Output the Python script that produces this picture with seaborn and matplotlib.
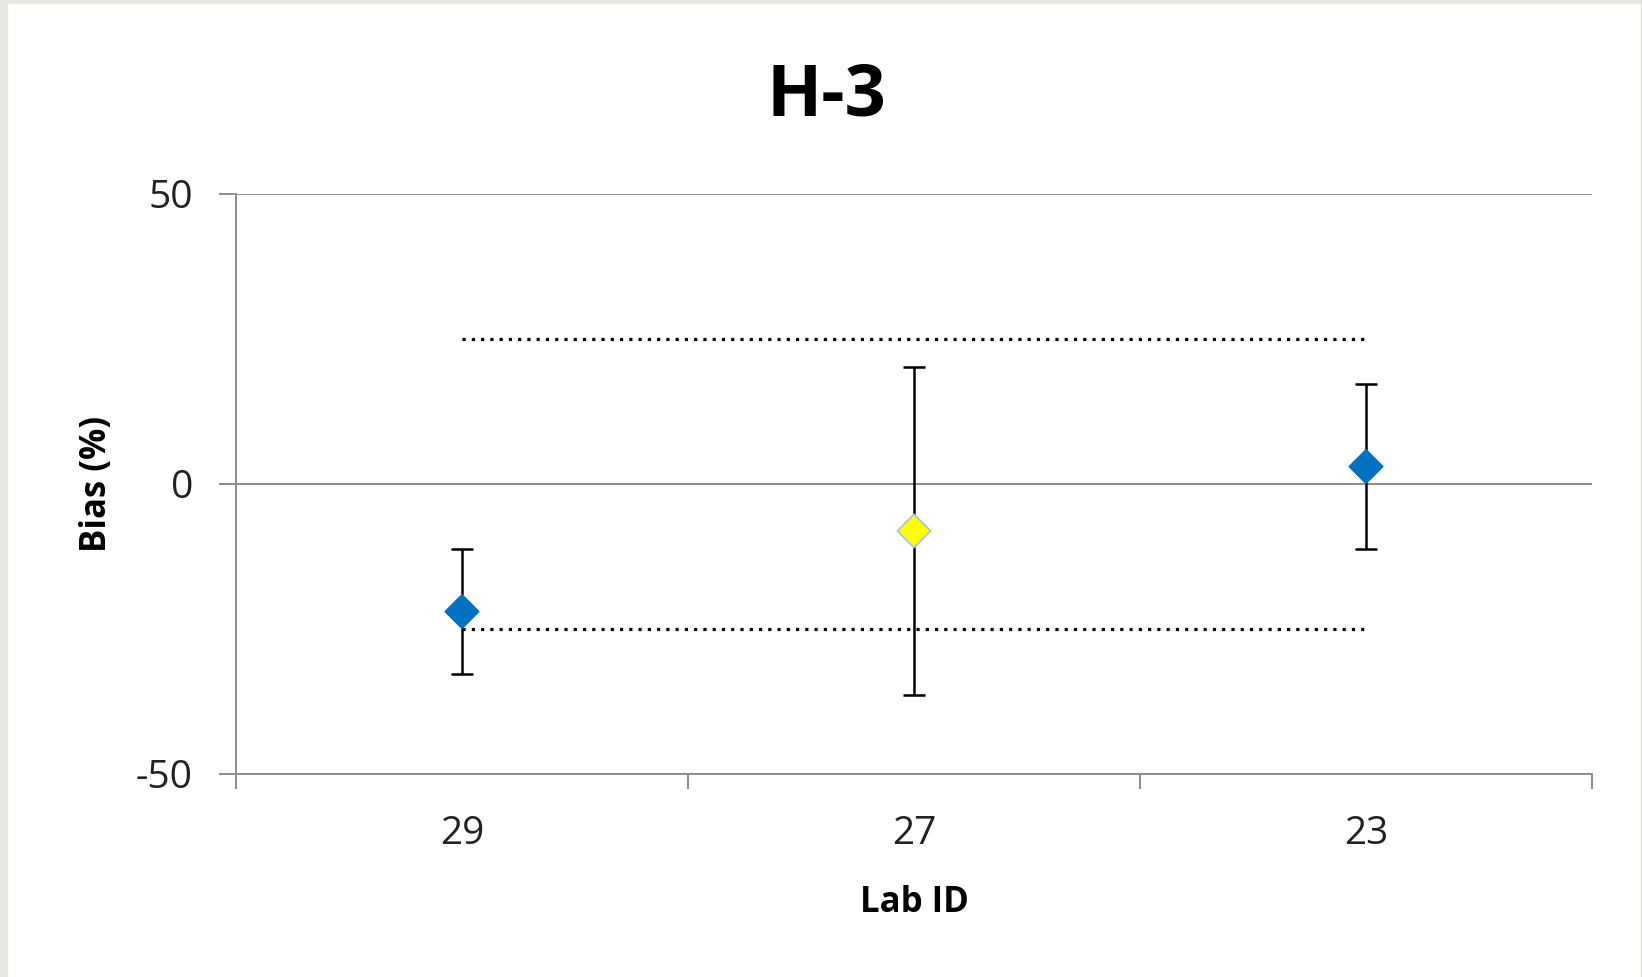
import numpy as np
import pandas as pd
import matplotlib
matplotlib.use("Agg")
import matplotlib.pyplot as plt
from matplotlib.patches import Rectangle
from matplotlib.ticker import FixedLocator
import seaborn as sns

# ---- data ----
lab_ids = ["29", "27", "23"]
bias = [-22.0, -8.1, 3.0]
bias_err = [10.8, 28.3, 14.2]
point_colors = ["#0070C0", "#FFFF00", "#0070C0"]
edge_colors = ["#0070C0", "#9DC3E6", "#0070C0"]
limit_upper = [25, 25, 25]
limit_lower = [-25, -25, -25]
yticks = [-50, 0, 50]

sns.set_theme(style="white")
plt.rcParams["font.family"] = ["Open Sans", "DejaVu Sans"]
plt.rcParams["axes.unicode_minus"] = False

fig = plt.figure(figsize=(16.42, 9.77), dpi=100)
fig.patch.set_facecolor("white")
frame_col = "#EAE8E3"
fig.patches.append(Rectangle((0, 0), 7 / 1642, 1, transform=fig.transFigure, color=frame_col, zorder=-10))
fig.patches.append(Rectangle((0, 1 - 3 / 977), 1, 3 / 977, transform=fig.transFigure, color=frame_col, zorder=-10))
fig.patches.append(Rectangle((1 - 1.5 / 1642, 0), 1.5 / 1642, 1, transform=fig.transFigure, color="#DDDAD4", zorder=-10))

ax = fig.add_axes([236 / 1642, 203 / 977, (1592 - 236) / 1642, (774 - 194) / 977])
ax.set_facecolor("none")

df = pd.DataFrame({"lab": lab_ids, "bias": bias, "err": bias_err})

# markers
sns.scatterplot(data=df, x="lab", y="bias", hue="lab",
                palette=dict(zip(lab_ids, point_colors)),
                marker="D", s=290, edgecolor=edge_colors, linewidth=1.2,
                legend=False, ax=ax, zorder=5)

# error bars
ax.errorbar(lab_ids, bias, yerr=bias_err, fmt="none", ecolor="black",
            elinewidth=1.8, capsize=8, capthick=1.8, zorder=4)

# limit lines
dot = (0, (1, 1.9))
ax.plot(lab_ids, limit_upper, color="black", lw=2.3, linestyle=dot, zorder=3)
ax.plot(lab_ids, limit_lower, color="black", lw=2.3, linestyle=dot, zorder=3)

gray = "#8C8C8C"
ax.set_xlim(-0.5, 2.5)
ax.set_ylim(-50, 50)
ax.set_yticks(yticks)
ax.yaxis.grid(True, color=gray, lw=1.4, zorder=0)
ax.set_axisbelow(True)
for side in ["top", "right"]:
    ax.spines[side].set_visible(False)
for side in ["left", "bottom"]:
    ax.spines[side].set_color(gray)
    ax.spines[side].set_linewidth(1.4)

ax.xaxis.set_minor_locator(FixedLocator([-0.5, 0.5, 1.5, 2.5]))
ax.tick_params(axis="x", which="major", length=0, pad=29.5, labelsize=28, labelcolor="#222222")
ax.tick_params(axis="x", which="minor", length=11, width=1.4, color=gray, bottom=True)
ax.tick_params(axis="y", which="major", length=12, width=1.4, color=gray, left=True,
               pad=19, labelsize=28, labelcolor="#222222")

ax.set_xlabel("")
ax.set_ylabel("")
fig.text(914 / 1642, 1 - 912 / 977, "Lab ID", ha="center", va="baseline",
         fontsize=25, fontweight="bold", color="black")
fig.text(97 / 1642, 0.5 * ((977 - 194) + (977 - 774)) / 977, "Bias (%)", ha="center", va="center",
         rotation=90, fontsize=25, fontweight="bold", color="black")
fig.text(826 / 1642, 1 - 115 / 977, "H-3", ha="center", va="baseline",
         fontsize=52, fontweight="bold", color="black")

fig.savefig("out.png", dpi=100)
